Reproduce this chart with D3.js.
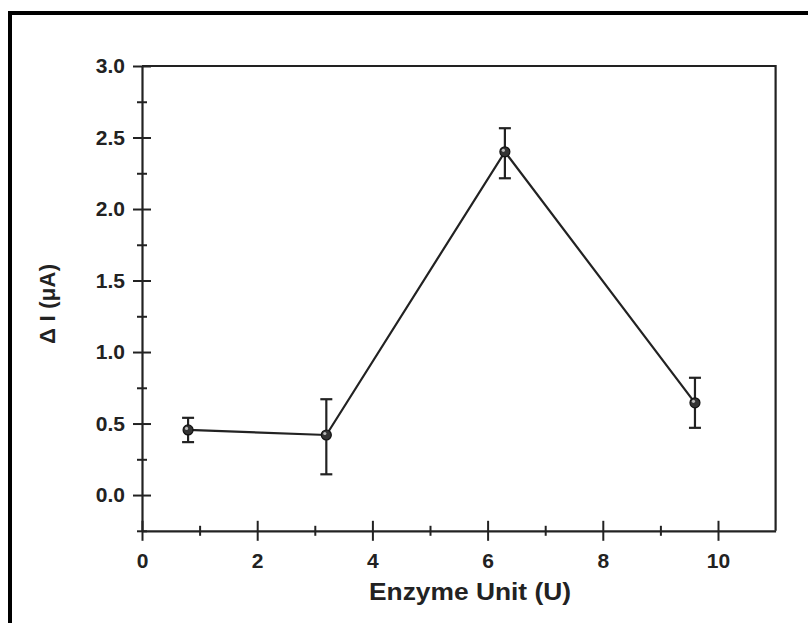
<!DOCTYPE html>
<html><head><meta charset="utf-8">
<script src="https://cdn.jsdelivr.net/npm/d3@7/dist/d3.min.js"></script>
<style>
html,body{margin:0;padding:0;background:#fff;}
svg{display:block;font-family:"Liberation Sans",Arial,sans-serif;}
</style></head>
<body><svg id="c" width="808" height="623"></svg>
<script>
const enzymeUnits = [0.8, 3.2, 6.3, 9.6];
const deltaI = [0.455, 0.42, 2.40, 0.645];
const errLow = [0.085, 0.275, 0.185, 0.175];
const errHigh = [0.085, 0.25, 0.165, 0.175];
const xMajorTicks = [0, 2, 4, 6, 8, 10];
const xMinorTicks = [1, 3, 5, 7, 9];
const yMajorTicks = [0.0, 0.5, 1.0, 1.5, 2.0, 2.5, 3.0];
const yMinorTicks = [-0.25, 0.25, 0.75, 1.25, 1.75, 2.25, 2.75];
const xTitle = "Enzyme Unit (U)";
const yTitle = "\u0394 I (\u03bcA)";

const svg = d3.select("#c");
const ink = "#222";
const x = d3.scaleLinear().domain([0, 11]).range([142, 775.6]);
const y = d3.scaleLinear().domain([-0.25, 3.0]).range([530.8, 66]);

// outer frame (top and left only visible)
svg.append("path").attr("d", "M10,640 L10,13 L820,13")
  .attr("fill", "none").attr("stroke", "#000").attr("stroke-width", 4);

// plot frame top/right
svg.append("path")
  .attr("d", `M${x(0)},${y(3)} L${x(11)},${y(3)} L${x(11)},${y(-0.25)}`)
  .attr("fill", "none").attr("stroke", ink).attr("stroke-width", 2.2);

function styleAxis(g) {
  g.select(".domain").attr("stroke", ink).attr("stroke-width", 2.2);
  g.selectAll(".tick line").attr("stroke", ink).attr("stroke-width", 2);
  g.selectAll(".tick text").attr("fill", ink).attr("font-weight", "bold")
    .attr("font-size", 21).attr("font-family", "Liberation Sans, Arial, sans-serif");
}

// x axis
const gx = svg.append("g").attr("transform", `translate(0,${y(-0.25)})`)
  .call(d3.axisBottom(x).tickValues(xMajorTicks).tickFormat(d3.format("d")).tickSize(10).tickSizeOuter(0).tickPadding(12));
styleAxis(gx);
gx.selectAll(".tick line").attr("y1", -10).attr("y2", 10);
const gxm = svg.append("g").attr("transform", `translate(0,${y(-0.25)})`)
  .call(d3.axisBottom(x).tickValues(xMinorTicks).tickFormat("").tickSize(5).tickSizeOuter(0));
gxm.select(".domain").remove();
gxm.selectAll(".tick line").attr("stroke", ink).attr("stroke-width", 2).attr("y1", -5).attr("y2", 5);

// y axis
const gy = svg.append("g").attr("transform", `translate(${x(0)},0)`)
  .call(d3.axisLeft(y).tickValues(yMajorTicks).tickFormat(d3.format(".1f")).tickSize(9).tickSizeOuter(0).tickPadding(8));
styleAxis(gy);
gy.selectAll(".tick line").attr("x1", 9).attr("x2", -9);
const gym = svg.append("g").attr("transform", `translate(${x(0)},0)`)
  .call(d3.axisLeft(y).tickValues(yMinorTicks).tickFormat("").tickSize(5).tickSizeOuter(0));
gym.select(".domain").remove();
gym.selectAll(".tick line").attr("stroke", ink).attr("stroke-width", 2).attr("x1", 5).attr("x2", -5);

// titles
svg.append("text").attr("x", 470).attr("y", 600).attr("text-anchor", "middle")
  .attr("font-weight", "bold").attr("font-size", 24).attr("fill", ink)
  .attr("textLength", 202).attr("lengthAdjust", "spacingAndGlyphs").text(xTitle);
svg.append("text").attr("transform", "translate(55,304) rotate(-90)").attr("text-anchor", "middle")
  .attr("font-weight", "bold").attr("font-size", 22).attr("fill", ink)
  .attr("textLength", 80).attr("lengthAdjust", "spacing").text(yTitle);

// data
const pts = enzymeUnits.map((u, i) => ({u, v: deltaI[i], lo: deltaI[i] - errLow[i], hi: deltaI[i] + errHigh[i]}));
svg.append("path").datum(pts)
  .attr("d", d3.line().x(d => x(d.u)).y(d => y(d.v)))
  .attr("fill", "none").attr("stroke", ink).attr("stroke-width", 2.2);

const eb = svg.append("g").attr("stroke", ink).attr("stroke-width", 2.2);
pts.forEach(d => {
  eb.append("line").attr("x1", x(d.u)).attr("x2", x(d.u)).attr("y1", y(d.lo)).attr("y2", y(d.hi));
  eb.append("line").attr("x1", x(d.u) - 6).attr("x2", x(d.u) + 6).attr("y1", y(d.lo)).attr("y2", y(d.lo));
  eb.append("line").attr("x1", x(d.u) - 6).attr("x2", x(d.u) + 6).attr("y1", y(d.hi)).attr("y2", y(d.hi));
});
svg.append("g").selectAll("circle").data(pts).join("circle")
  .attr("cx", d => x(d.u)).attr("cy", d => y(d.v)).attr("r", 5)
  .attr("fill", "#333").attr("stroke", "#111").attr("stroke-width", 1.2);
svg.append("g").selectAll("circle").data(pts).join("circle")
  .attr("cx", d => x(d.u) - 1.5).attr("cy", d => y(d.v) - 1.5).attr("r", 1.6)
  .attr("fill", "#bbb");
</script></body></html>
